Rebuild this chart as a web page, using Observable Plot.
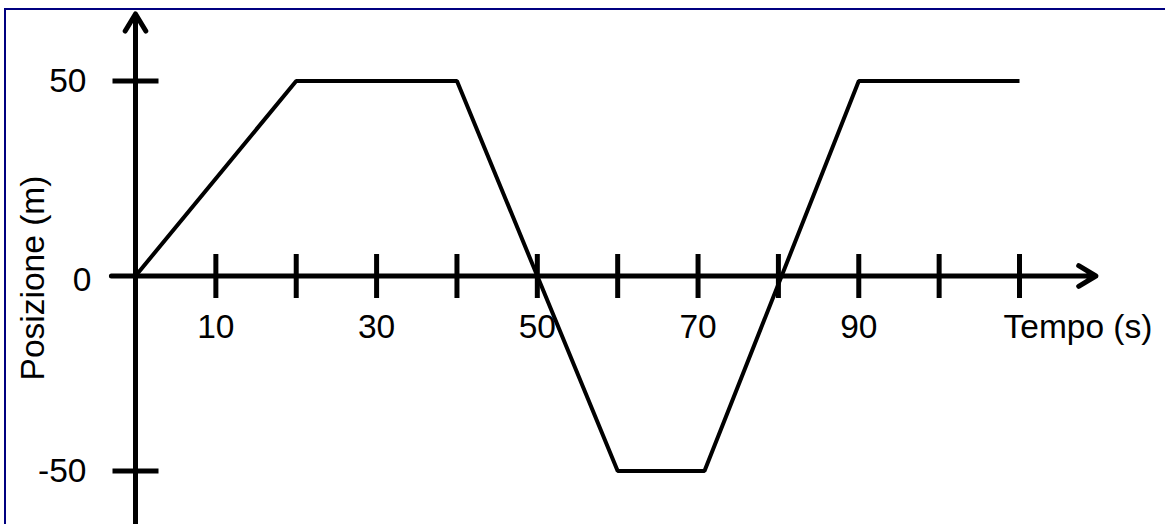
<!DOCTYPE html>
<html>
<head>
<meta charset="utf-8">
<script src="https://cdn.jsdelivr.net/npm/d3@7"></script>
<script src="https://cdn.jsdelivr.net/npm/@observablehq/plot@0.6"></script>
<style>
  html, body { margin: 0; padding: 0; background: #fff; }
  #wrap { position: relative; width: 1165px; height: 524px; overflow: hidden; background: #fff; }
  #frame { position: absolute; left: 4px; top: 8px; width: 1200px; height: 600px;
           border-top: 2.5px solid #000080; border-left: 2.5px solid #000080; pointer-events: none; }
  #wrap svg { position: absolute; left: 0; top: 0; }
</style>
</head>
<body>
<div id="wrap"><div id="frame"></div></div>
<script>
// Data
const tempo = [0, 20, 40, 60, 70.8, 90, 110];
const posizione = [0, 50, 50, -50, -50, 50, 50];

// Tick marks and labels
const xTicks = [10, 20, 30, 40, 50, 60, 70, 80, 90, 100, 110];
const xTickLabels = [10, 30, 50, 70, 90];
const yTicks = [50, -50];
const yTickLabels = ["50", "-50"];
const originLabel = "0";
const xTitle = "Tempo (s)";
const yTitle = "Posizione (m)";

// Axis extents (data units), arrows at the ends
const xAxisExtent = [-3, 119.5];
const yAxisExtent = [-66, 67.2];

const series = tempo.map((t, i) => ({t, p: posizione[i]}));
const axes = [
  {x1: xAxisExtent[0], y1: 0, x2: xAxisExtent[1], y2: 0},
  {x1: 0, y1: yAxisExtent[0], x2: 0, y2: yAxisExtent[1]}
];
const yTickData = yTicks.map((v, i) => ({v, label: yTickLabels[i]}));

const vTick = {draw(ctx, size) { const l = Math.sqrt(size / Math.PI); ctx.moveTo(0, -l); ctx.lineTo(0, l); }};
const hTick = {draw(ctx, size) { const l = Math.sqrt(size / Math.PI); ctx.moveTo(-l, 0); ctx.lineTo(l, 0); }};

const font = "'Liberation Sans', Arial, Helvetica, sans-serif";
const fs = 33.5;

const chart = Plot.plot({
  width: 1165,
  height: 524,
  x: {domain: [0, 110], range: [135, 1019], axis: null},
  y: {domain: [-50, 50], range: [470.5, 80.5], axis: null},
  style: {fontFamily: font, fontSize: fs + "px", background: "transparent", overflow: "visible"},
  marks: [
    Plot.arrow(axes, {x1: "x1", y1: "y1", x2: "x2", y2: "y2", stroke: "black", strokeWidth: 5,
      headLength: 6, headAngle: 62, strokeLinecap: "round", strokeLinejoin: "round"}),
    Plot.dot(xTicks, {x: d => d, y: () => 0, symbol: vTick, r: 22, stroke: "black", fill: "none", strokeWidth: 5}),
    Plot.dot(yTickData, {x: () => 0, y: "v", symbol: hTick, r: 23, stroke: "black", fill: "none", strokeWidth: 5}),
    Plot.line(series, {x: "t", y: "p", stroke: "black", strokeWidth: 4, strokeLinejoin: "miter", strokeLinecap: "butt"}),
    Plot.text(xTickLabels, {x: d => d, y: () => 0, text: d => String(d), dy: 51, fill: "black", fontSize: fs}),
    Plot.text([xTitle], {x: () => d3.max(xTicks), y: () => 0, text: d => d, dx: -16, dy: 51, textAnchor: "start", fill: "black", fontSize: fs}),
    Plot.text(yTickData, {x: () => 0, y: "v", text: "label", dx: -49, dy: 0, textAnchor: "end", fill: "black", fontSize: fs}),
    Plot.text([originLabel], {x: () => 0, y: () => 0, text: d => d, dx: -44, dy: 4, textAnchor: "end", fill: "black", fontSize: fs}),
    Plot.text([yTitle], {x: () => 0, y: () => 0, text: d => d, dx: -102, dy: 2, rotate: -90, fill: "black", fontSize: fs})
  ]
});
document.getElementById("wrap").appendChild(chart);
</script>
</body>
</html>
